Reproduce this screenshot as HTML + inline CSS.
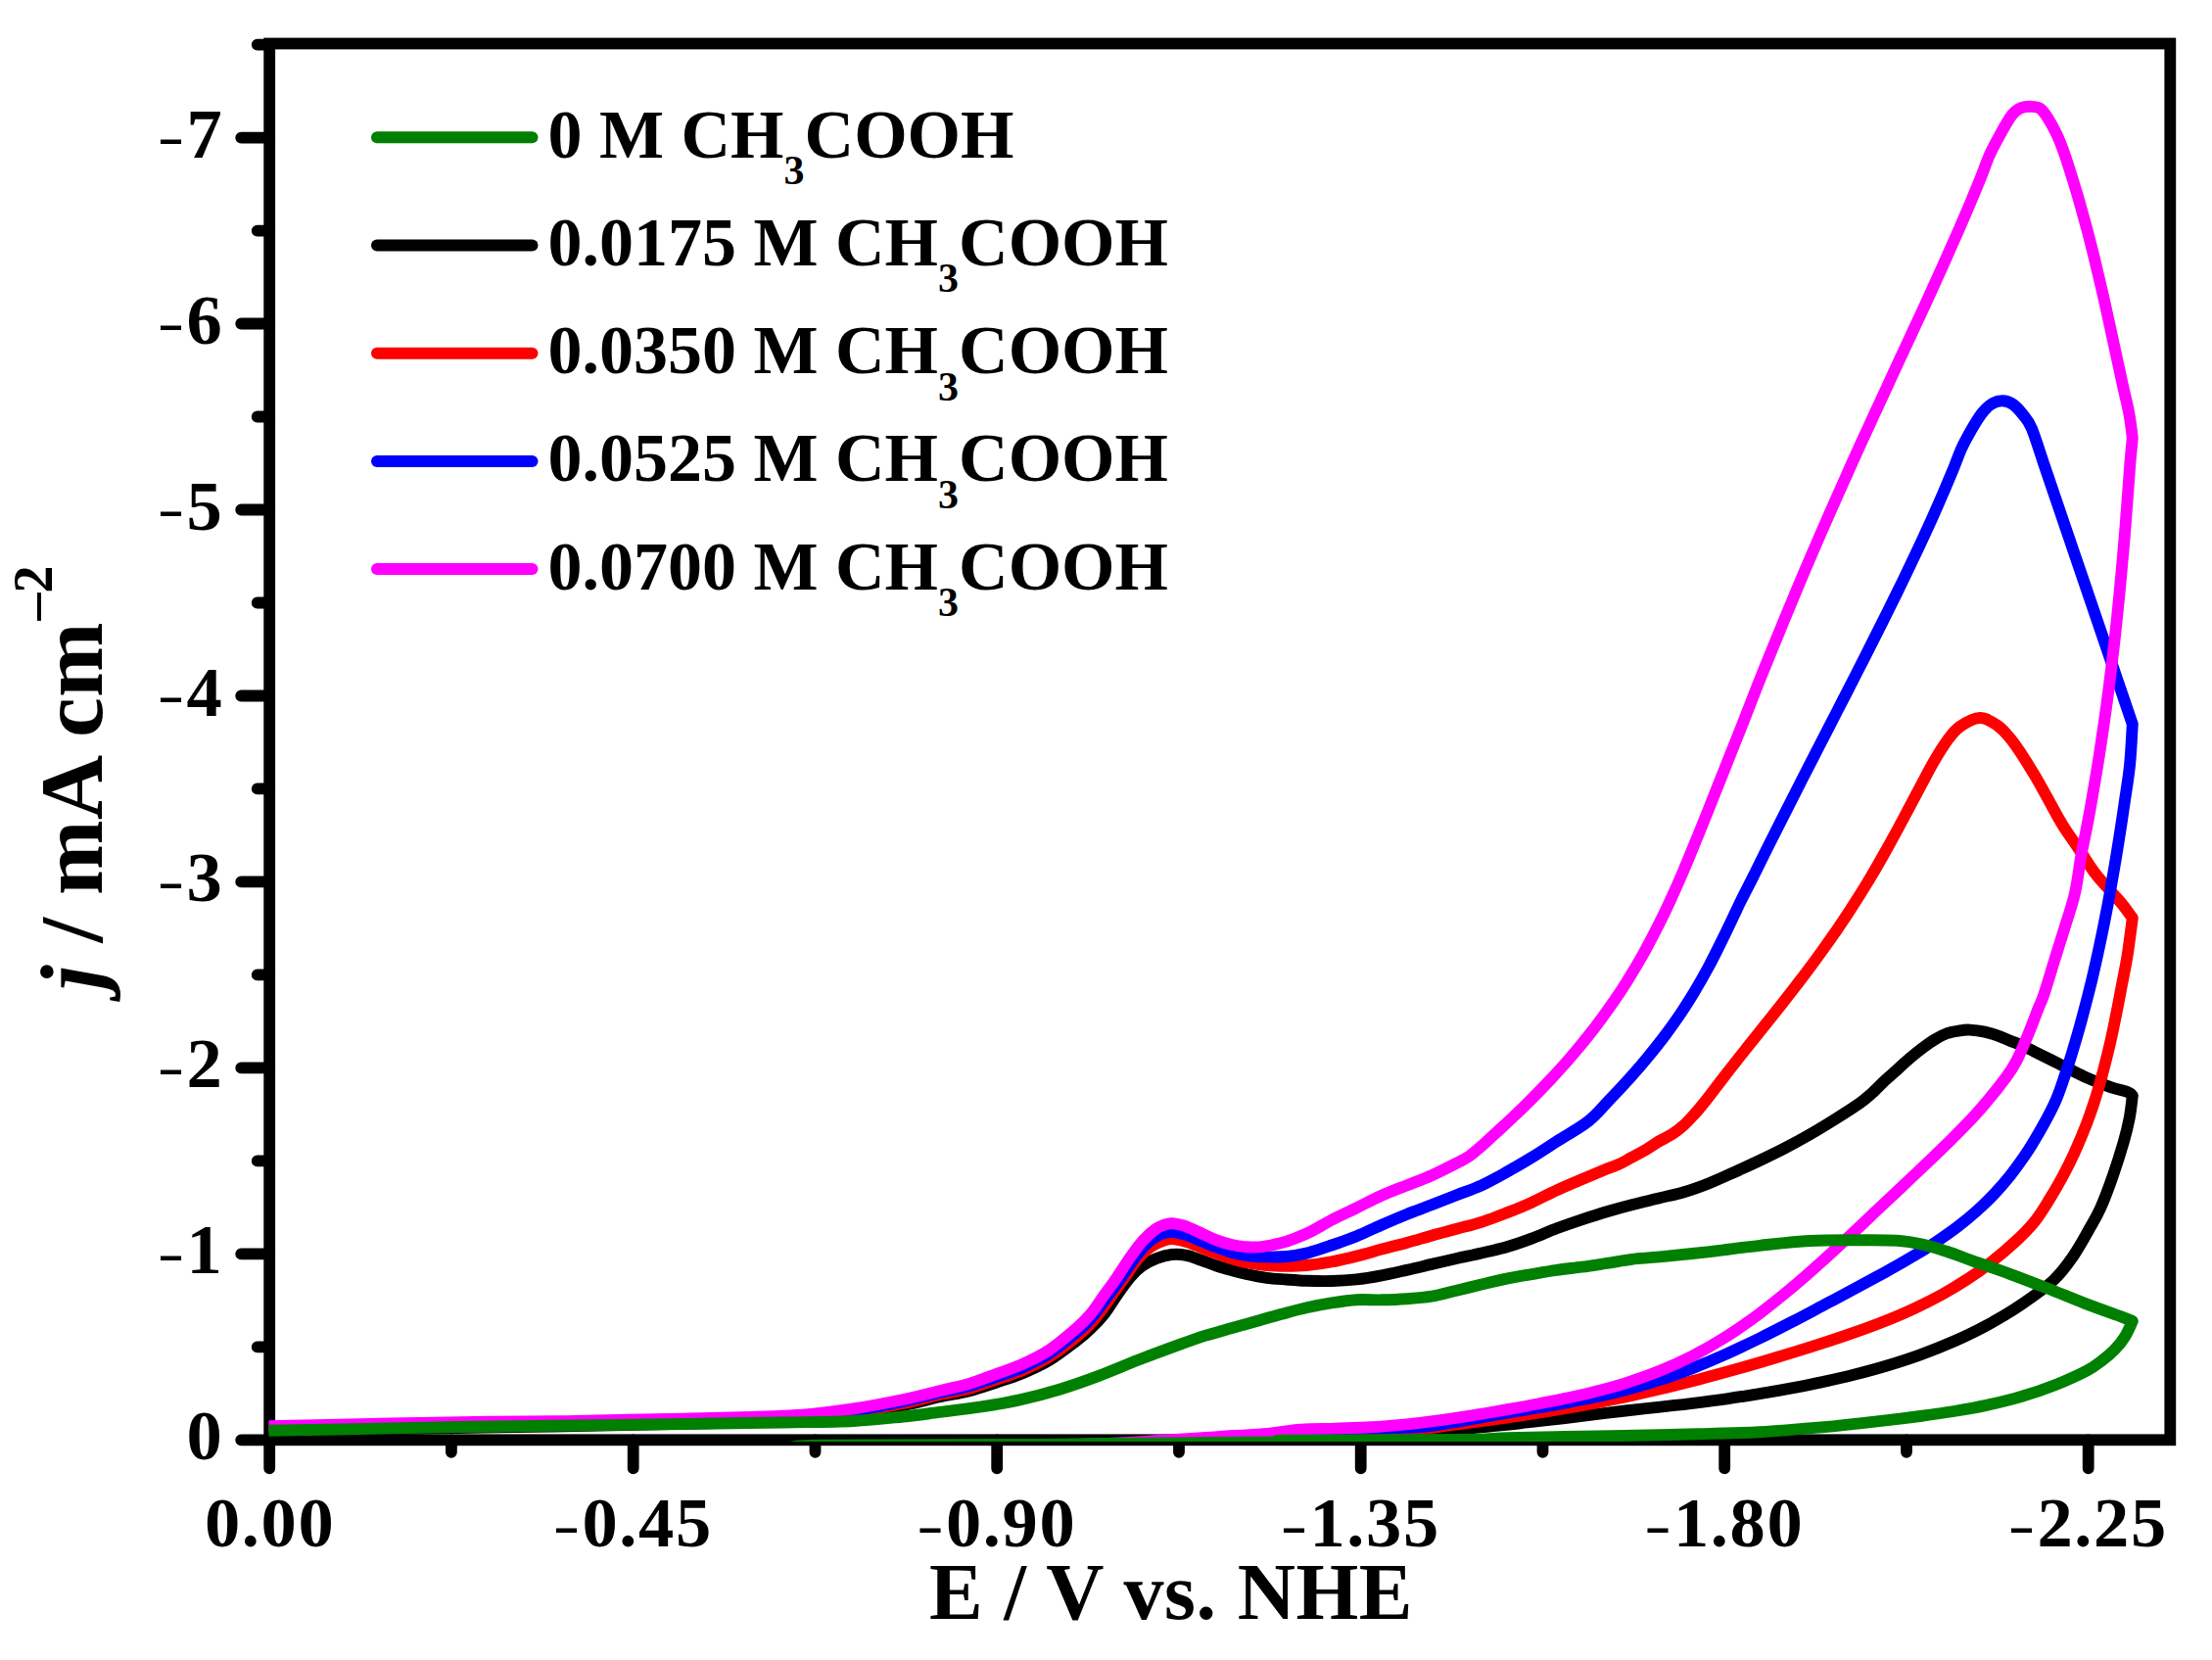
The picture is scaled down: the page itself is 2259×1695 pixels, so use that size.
<!DOCTYPE html>
<html lang="en"><head><meta charset="utf-8"><title>CV plot</title>
<style>
html,body{margin:0;padding:0;background:#fff}
body{width:2259px;height:1695px;overflow:hidden}
svg{display:block}
text{font-family:"Liberation Serif","Times New Roman",Times,serif;font-weight:bold;fill:#000}
</style></head>
<body>
<svg xmlns="http://www.w3.org/2000/svg" width="2259" height="1695" viewBox="0 0 2259 1695">
<rect width="2259" height="1695" fill="#fff"/>
<defs><clipPath id="pc"><rect x="274.3" y="30.0" width="1941.7" height="1442.0"/></clipPath></defs>
<g fill="none" stroke="#000" stroke-width="11.8">
<rect x="275.2" y="44.5" width="1941.1" height="1425.8"/>
</g>
<g fill="none" stroke="#000" stroke-width="11.8" stroke-linecap="round">
<path d="M275.2 1470.3 H246.2M275.2 1280.3 H246.2M275.2 1090.4 H246.2M275.2 900.4 H246.2M275.2 710.5 H246.2M275.2 520.5 H246.2M275.2 330.5 H246.2M275.2 140.6 H246.2M275.2 1375.3 H262.7M275.2 1185.4 H262.7M275.2 995.4 H262.7M275.2 805.4 H262.7M275.2 615.5 H262.7M275.2 425.5 H262.7M275.2 235.6 H262.7M275.2 45.6 H262.7M275.2 1470.3 V1499.3M646.7 1470.3 V1499.3M1018.2 1470.3 V1499.3M1389.7 1470.3 V1499.3M1761.2 1470.3 V1499.3M2132.7 1470.3 V1499.3M460.9 1470.3 V1482.8M832.5 1470.3 V1482.8M1204.0 1470.3 V1482.8M1575.5 1470.3 V1482.8M1947.0 1470.3 V1482.8"/>
</g>
<g clip-path="url(#pc)" fill="none" stroke-width="11.9" stroke-linejoin="round">
<path stroke="#000000" d="M274.3 1461.0C322.8 1460.2 484.6 1457.9 565.0 1456.5C645.4 1455.1 713.2 1453.7 756.6 1452.5C800.0 1451.3 806.4 1450.9 825.5 1449.5C844.6 1448.1 855.3 1446.4 871.5 1444.0C887.7 1441.6 907.9 1438.0 922.6 1435.0C937.4 1432.0 948.9 1428.7 960.0 1426.3C971.1 1423.9 979.6 1422.9 989.0 1420.5C998.4 1418.1 1007.1 1415.0 1016.2 1412.0C1025.3 1409.0 1034.5 1406.3 1043.7 1402.5C1052.9 1398.7 1062.3 1394.6 1071.6 1389.0C1080.9 1383.4 1092.4 1374.3 1099.4 1369.0C1106.4 1363.7 1108.8 1361.5 1113.5 1357.0C1118.2 1352.5 1122.9 1347.7 1127.4 1342.0C1131.9 1336.3 1136.1 1329.0 1140.5 1322.8C1144.9 1316.5 1149.8 1309.5 1154.0 1304.5C1158.2 1299.5 1161.5 1296.2 1166.0 1293.0C1170.5 1289.8 1175.9 1287.0 1181.0 1285.0C1186.1 1283.0 1191.3 1281.5 1196.4 1281.0C1201.5 1280.5 1206.6 1280.8 1211.7 1281.8C1216.8 1282.8 1221.9 1285.1 1227.0 1286.9C1232.1 1288.7 1237.3 1290.8 1242.4 1292.5C1247.5 1294.2 1252.6 1295.6 1257.7 1297.0C1262.8 1298.4 1267.0 1299.7 1273.0 1301.0C1279.0 1302.3 1286.7 1303.9 1293.5 1304.8C1300.3 1305.7 1307.1 1306.0 1313.9 1306.5C1320.7 1307.0 1326.6 1307.5 1334.3 1307.8C1342.0 1308.0 1351.4 1308.2 1359.9 1308.0C1368.4 1307.8 1376.9 1307.3 1385.4 1306.4C1393.9 1305.5 1402.5 1304.0 1411.0 1302.4C1419.5 1300.8 1428.0 1298.8 1436.5 1296.9C1445.0 1295.0 1453.5 1292.9 1462.0 1290.9C1470.5 1288.9 1479.1 1286.9 1487.6 1285.0C1496.1 1283.1 1504.5 1281.5 1513.0 1279.5C1521.5 1277.5 1530.2 1275.8 1538.7 1273.3C1547.2 1270.8 1555.7 1267.8 1564.2 1264.6C1572.7 1261.4 1581.3 1257.5 1589.8 1254.3C1598.3 1251.1 1606.8 1248.1 1615.3 1245.3C1623.8 1242.5 1632.4 1239.7 1640.9 1237.2C1649.4 1234.7 1657.4 1232.5 1666.4 1230.2C1675.4 1227.9 1686.0 1225.5 1695.0 1223.3C1704.0 1221.1 1712.0 1219.5 1720.5 1217.0C1729.0 1214.5 1737.5 1211.4 1746.0 1208.0C1754.5 1204.6 1763.1 1200.5 1771.6 1196.7C1780.1 1192.9 1788.5 1189.0 1797.0 1185.0C1805.5 1181.0 1814.2 1176.8 1822.7 1172.4C1831.2 1168.0 1839.8 1163.3 1848.3 1158.4C1856.8 1153.5 1865.3 1148.3 1873.8 1143.0C1882.3 1137.7 1892.9 1130.9 1899.3 1126.4C1905.7 1121.9 1907.7 1119.8 1912.0 1116.0C1916.3 1112.2 1920.6 1107.4 1924.9 1103.4C1929.2 1099.4 1933.5 1095.8 1937.7 1092.0C1942.0 1088.2 1946.2 1084.0 1950.4 1080.4C1954.7 1076.8 1958.9 1073.4 1963.2 1070.2C1967.5 1067.0 1971.8 1063.8 1976.0 1061.3C1980.2 1058.8 1984.5 1056.5 1988.7 1055.0C1993.0 1053.5 1997.7 1052.9 2001.5 1052.3C2005.3 1051.7 2007.5 1051.4 2011.7 1051.6C2016.0 1051.8 2022.3 1052.6 2027.0 1053.6C2031.7 1054.6 2035.5 1055.9 2039.8 1057.4C2044.1 1058.9 2048.3 1060.9 2052.6 1062.6C2056.9 1064.3 2061.2 1065.8 2065.4 1067.7C2069.6 1069.6 2071.6 1070.8 2078.0 1074.0C2084.4 1077.2 2095.2 1082.5 2103.7 1086.8C2112.2 1091.1 2120.7 1095.8 2129.2 1099.6C2137.7 1103.4 2147.6 1107.2 2154.8 1109.8C2162.1 1112.4 2168.9 1113.5 2172.7 1115.0C2176.5 1116.5 2177.0 1118.1 2177.8 1118.7C2177.3 1122.5 2176.2 1133.9 2174.7 1141.7C2173.2 1149.5 2171.7 1155.9 2168.9 1165.6C2166.1 1175.3 2161.9 1188.7 2158.0 1200.0C2154.1 1211.3 2149.3 1224.2 2145.2 1233.4C2141.1 1242.6 2138.3 1246.7 2133.6 1255.0C2128.9 1263.3 2123.0 1274.3 2117.0 1283.0C2111.0 1291.7 2106.3 1298.7 2097.4 1307.0C2088.5 1315.3 2074.6 1325.0 2063.4 1332.6C2052.2 1340.2 2041.3 1346.5 2030.0 1352.7C2018.7 1358.9 2007.1 1364.4 1995.6 1369.5C1984.1 1374.6 1972.3 1379.2 1961.0 1383.3C1949.7 1387.4 1939.0 1390.8 1927.8 1394.2C1916.6 1397.6 1905.3 1400.6 1894.0 1403.5C1882.7 1406.4 1870.5 1409.1 1860.0 1411.4C1849.5 1413.7 1841.8 1415.2 1831.3 1417.2C1820.8 1419.2 1808.3 1421.4 1797.0 1423.2C1785.7 1425.0 1774.7 1426.7 1763.4 1428.3C1752.1 1429.9 1740.3 1431.4 1729.0 1432.8C1717.7 1434.2 1707.1 1435.3 1695.6 1436.6C1684.1 1437.9 1671.3 1439.2 1660.0 1440.5C1648.7 1441.8 1638.8 1443.1 1627.8 1444.4C1616.8 1445.7 1605.3 1447.2 1594.0 1448.5C1582.7 1449.8 1570.2 1451.3 1560.0 1452.4C1549.8 1453.5 1543.9 1454.2 1532.6 1455.3C1521.3 1456.4 1508.0 1457.8 1492.0 1458.9C1476.0 1460.0 1455.2 1460.8 1436.5 1461.8C1417.8 1462.8 1397.1 1464.0 1380.0 1465.0C1362.9 1466.0 1358.7 1466.5 1334.0 1467.5C1309.3 1468.5 1304.3 1468.9 1232.0 1471.0C1159.7 1473.1 1059.5 1478.0 900.0 1480.0C740.5 1482.0 379.2 1482.5 275.0 1483.0"/>
<path stroke="#ff0000" d="M274.3 1459.0C322.8 1458.2 484.6 1455.9 565.0 1454.5C645.4 1453.1 713.2 1451.7 756.6 1450.5C800.0 1449.3 806.4 1448.9 825.5 1447.5C844.6 1446.1 855.3 1444.4 871.5 1442.0C887.7 1439.6 907.9 1436.0 922.6 1433.0C937.4 1430.0 948.9 1426.5 960.0 1424.0C971.1 1421.5 979.6 1420.5 989.0 1418.0C998.4 1415.5 1007.1 1412.1 1016.2 1409.0C1025.3 1405.9 1034.5 1403.4 1043.7 1399.5C1052.9 1395.6 1062.3 1391.2 1071.6 1385.5C1080.9 1379.8 1092.4 1370.6 1099.4 1365.0C1106.4 1359.4 1108.8 1357.1 1113.5 1352.0C1118.2 1346.9 1123.8 1339.4 1127.4 1334.5C1131.1 1329.6 1131.8 1327.9 1135.4 1322.8C1139.0 1317.7 1144.6 1310.0 1149.0 1303.8C1153.4 1297.6 1157.8 1290.5 1162.0 1285.5C1166.2 1280.5 1170.2 1276.9 1174.0 1274.0C1177.8 1271.1 1181.3 1269.5 1185.0 1268.0C1188.7 1266.5 1192.0 1265.0 1196.4 1265.0C1200.9 1265.0 1206.6 1266.5 1211.7 1268.0C1216.8 1269.5 1221.9 1272.0 1227.0 1274.0C1232.1 1276.0 1237.3 1278.1 1242.4 1280.0C1247.5 1281.9 1252.6 1283.7 1257.7 1285.2C1262.8 1286.7 1267.0 1288.1 1273.0 1289.2C1279.0 1290.3 1286.7 1291.4 1293.5 1292.0C1300.3 1292.6 1307.1 1292.7 1313.9 1292.7C1320.7 1292.7 1326.6 1292.7 1334.3 1292.0C1342.0 1291.3 1351.4 1290.0 1359.9 1288.4C1368.4 1286.8 1376.9 1284.7 1385.4 1282.6C1393.9 1280.5 1402.5 1277.9 1411.0 1275.6C1419.5 1273.3 1428.0 1271.3 1436.5 1269.0C1445.0 1266.7 1453.5 1264.1 1462.0 1261.7C1470.5 1259.3 1479.1 1257.1 1487.6 1254.8C1496.1 1252.5 1504.5 1250.5 1513.0 1247.8C1521.5 1245.1 1530.2 1241.7 1538.7 1238.4C1547.2 1235.1 1555.7 1231.7 1564.2 1227.8C1572.7 1223.9 1581.3 1219.2 1589.8 1215.3C1598.3 1211.4 1606.8 1207.8 1615.3 1204.2C1623.8 1200.6 1634.5 1196.2 1640.9 1193.6C1647.3 1191.0 1649.3 1190.7 1653.6 1188.7C1657.8 1186.7 1662.1 1184.1 1666.4 1181.8C1670.7 1179.5 1674.4 1177.7 1679.2 1174.9C1684.0 1172.1 1690.2 1167.8 1695.0 1165.0C1699.8 1162.2 1703.6 1160.7 1707.8 1158.0C1712.0 1155.3 1716.0 1152.1 1719.9 1148.6C1723.8 1145.1 1727.2 1141.2 1731.0 1137.0C1734.8 1132.8 1738.7 1128.0 1742.5 1123.2C1746.3 1118.4 1750.1 1113.3 1753.9 1108.3C1757.8 1103.3 1761.5 1098.5 1765.6 1093.2C1769.7 1087.9 1774.2 1082.1 1778.6 1076.6C1783.0 1071.1 1787.3 1065.8 1791.9 1060.0C1796.5 1054.2 1801.5 1048.0 1806.3 1042.0C1811.0 1036.0 1815.7 1030.1 1820.4 1024.2C1825.1 1018.3 1829.7 1012.4 1834.3 1006.4C1838.9 1000.4 1843.5 994.5 1847.9 988.5C1852.4 982.5 1856.7 976.6 1861.0 970.6C1865.3 964.6 1869.6 958.7 1873.7 952.7C1877.8 946.7 1881.6 941.2 1885.8 934.8C1890.0 928.4 1894.6 921.2 1898.9 914.4C1903.2 907.6 1907.1 901.2 1911.4 894.0C1915.7 886.8 1920.3 878.7 1924.6 871.0C1928.9 863.3 1932.9 856.1 1937.3 848.0C1941.7 839.9 1946.6 830.6 1950.9 822.5C1955.2 814.4 1959.0 807.2 1963.1 799.5C1967.2 791.8 1971.3 783.8 1975.6 776.5C1979.9 769.2 1984.4 761.8 1988.7 756.0C1993.0 750.2 1996.0 745.8 2001.5 742.0C2007.0 738.2 2015.6 733.2 2022.0 733.0C2028.4 732.8 2034.7 737.3 2039.8 740.7C2044.9 744.1 2048.3 748.4 2052.6 753.5C2056.9 758.6 2061.2 765.0 2065.4 771.4C2069.6 777.8 2073.7 784.6 2078.0 791.8C2082.3 799.0 2086.7 807.1 2091.0 814.8C2095.3 822.5 2100.5 832.3 2103.7 837.8C2106.9 843.3 2106.6 842.9 2110.0 848.0C2113.4 853.1 2119.1 861.2 2124.0 868.4C2128.9 875.6 2134.3 884.6 2139.4 891.4C2144.5 898.2 2150.1 904.0 2154.8 909.3C2159.5 914.6 2163.7 918.7 2167.5 923.4C2171.3 928.1 2176.1 935.1 2177.8 937.4C2176.9 943.8 2174.4 964.2 2172.6 975.7C2170.8 987.2 2168.8 996.2 2166.8 1006.4C2164.9 1016.6 2163.0 1026.8 2160.9 1037.0C2158.8 1047.2 2156.8 1057.5 2154.4 1067.7C2152.0 1077.9 2149.2 1088.9 2146.7 1098.3C2144.2 1107.7 2141.9 1115.4 2139.2 1123.9C2136.4 1132.4 2133.7 1140.4 2130.2 1149.4C2126.7 1158.4 2122.1 1169.2 2118.1 1178.0C2114.1 1186.8 2110.4 1194.0 2106.1 1202.0C2101.8 1210.0 2096.9 1218.3 2092.1 1226.0C2087.3 1233.7 2082.8 1241.2 2077.3 1248.0C2071.8 1254.8 2066.6 1260.0 2059.0 1267.0C2051.4 1274.0 2040.3 1283.4 2032.0 1289.9C2023.7 1296.5 2017.1 1301.0 2009.0 1306.3C2000.9 1311.6 1992.5 1316.7 1983.6 1321.6C1974.7 1326.5 1965.3 1331.2 1955.5 1335.8C1945.7 1340.4 1935.1 1344.9 1924.9 1349.0C1914.7 1353.1 1905.0 1356.6 1894.2 1360.4C1883.4 1364.2 1870.5 1368.5 1860.0 1371.9C1849.5 1375.3 1841.8 1377.7 1831.3 1380.9C1820.8 1384.1 1808.3 1387.9 1797.0 1391.2C1785.7 1394.5 1774.7 1397.6 1763.4 1400.7C1752.1 1403.8 1740.3 1407.1 1729.0 1410.0C1717.7 1412.9 1707.1 1415.6 1695.6 1418.3C1684.1 1421.0 1671.3 1424.0 1660.0 1426.4C1648.7 1428.8 1638.8 1430.7 1627.8 1432.8C1616.8 1434.9 1605.3 1437.0 1594.0 1438.9C1582.7 1440.8 1568.2 1443.0 1560.0 1444.3C1551.8 1445.6 1548.9 1446.0 1544.8 1446.6C1540.7 1447.2 1539.3 1447.4 1535.3 1448.0C1531.3 1448.6 1526.3 1449.3 1521.0 1450.0C1515.7 1450.7 1510.3 1451.5 1503.5 1452.4C1496.7 1453.3 1489.6 1454.3 1480.4 1455.4C1471.2 1456.5 1461.9 1457.9 1448.5 1458.9C1435.1 1459.9 1419.1 1460.4 1400.0 1461.5C1380.9 1462.6 1362.0 1464.0 1334.0 1465.5C1306.0 1467.0 1304.3 1468.1 1232.0 1470.5C1159.7 1472.9 1059.5 1478.1 900.0 1480.0C740.5 1481.9 379.2 1481.7 275.0 1482.0"/>
<path stroke="#0000ff" d="M274.3 1458.0C322.8 1457.2 484.6 1454.5 565.0 1453.0C645.4 1451.5 713.2 1450.2 756.6 1449.0C800.0 1447.8 806.4 1447.4 825.5 1446.0C844.6 1444.6 855.3 1443.0 871.5 1440.5C887.7 1438.0 907.9 1434.1 922.6 1431.0C937.4 1427.9 948.9 1424.6 960.0 1422.0C971.1 1419.4 979.6 1418.2 989.0 1415.6C998.4 1413.0 1007.1 1409.7 1016.2 1406.5C1025.3 1403.3 1034.5 1400.6 1043.7 1396.5C1052.9 1392.4 1062.3 1388.0 1071.6 1382.0C1080.9 1376.0 1092.4 1366.3 1099.4 1360.5C1106.4 1354.7 1108.8 1352.3 1113.5 1347.0C1118.2 1341.7 1122.2 1335.9 1127.4 1328.8C1132.7 1321.7 1139.8 1311.8 1145.0 1304.5C1150.2 1297.2 1154.2 1290.8 1158.5 1285.0C1162.8 1279.2 1166.9 1273.9 1171.0 1270.0C1175.1 1266.1 1178.8 1263.5 1183.0 1261.5C1187.2 1259.5 1191.6 1257.9 1196.4 1257.8C1201.2 1257.7 1206.6 1259.4 1211.7 1261.0C1216.8 1262.6 1221.9 1265.1 1227.0 1267.2C1232.1 1269.3 1237.3 1271.6 1242.4 1273.5C1247.5 1275.4 1252.6 1277.3 1257.7 1278.7C1262.8 1280.1 1267.0 1281.2 1273.0 1282.0C1279.0 1282.8 1286.7 1283.2 1293.5 1283.4C1300.3 1283.6 1307.1 1283.6 1313.9 1283.0C1320.7 1282.4 1326.6 1281.5 1334.3 1279.6C1342.0 1277.7 1351.4 1274.4 1359.9 1271.5C1368.4 1268.6 1376.9 1265.7 1385.4 1262.2C1393.9 1258.7 1402.5 1254.4 1411.0 1250.7C1419.5 1247.0 1428.0 1243.3 1436.5 1239.9C1445.0 1236.5 1453.5 1233.6 1462.0 1230.3C1470.5 1227.0 1479.1 1223.6 1487.6 1220.3C1496.1 1217.0 1504.5 1214.3 1513.0 1210.4C1521.5 1206.5 1530.2 1201.5 1538.7 1196.8C1547.2 1192.0 1555.8 1187.1 1564.2 1181.9C1572.6 1176.7 1579.7 1172.0 1589.3 1165.8C1598.9 1159.6 1612.9 1152.1 1621.9 1145.0C1630.9 1137.9 1636.3 1130.7 1643.3 1123.4C1650.3 1116.2 1657.1 1108.9 1663.8 1101.5C1670.5 1094.1 1676.9 1086.7 1683.2 1079.0C1689.5 1071.3 1695.9 1063.3 1701.6 1055.6C1707.3 1047.9 1712.6 1040.5 1717.6 1033.0C1722.6 1025.5 1727.2 1018.0 1731.7 1010.5C1736.2 1003.0 1740.5 995.4 1744.6 987.8C1748.7 980.2 1752.5 972.5 1756.2 965.0C1759.9 957.5 1763.3 950.5 1766.9 943.0C1770.5 935.5 1773.9 928.0 1777.8 920.0C1781.7 912.0 1786.2 903.7 1790.5 895.0C1794.8 886.3 1798.9 877.8 1803.9 867.8C1808.9 857.8 1814.8 846.3 1820.5 835.0C1826.2 823.7 1834.4 807.7 1838.3 800.0C1842.2 792.3 1840.9 794.8 1843.9 789.0C1846.9 783.2 1852.1 773.0 1856.2 765.0C1860.3 757.0 1864.4 749.0 1868.7 740.7C1873.0 732.4 1877.5 723.5 1881.9 715.0C1886.3 706.5 1890.4 698.5 1894.9 689.6C1899.5 680.7 1904.5 670.9 1909.2 661.5C1913.9 652.1 1918.6 642.9 1923.3 633.5C1928.0 624.1 1934.2 611.4 1937.4 605.0C1940.6 598.6 1939.0 601.8 1942.3 595.0C1945.6 588.2 1952.2 574.4 1957.1 564.0C1962.0 553.6 1967.1 542.6 1971.6 532.8C1976.0 523.0 1979.9 514.0 1983.8 505.0C1987.7 495.9 1991.7 486.4 1995.0 478.5C1998.3 470.6 2000.2 464.3 2003.4 457.5C2006.6 450.7 2010.5 443.7 2013.9 437.8C2017.3 431.9 2020.7 426.2 2024.0 422.0C2027.3 417.8 2030.5 414.6 2034.0 412.5C2037.5 410.4 2041.4 409.2 2045.1 409.3C2048.8 409.4 2052.5 410.6 2056.0 413.0C2059.5 415.4 2062.8 419.4 2066.0 423.5C2069.2 427.6 2071.2 428.6 2075.0 437.8C2078.8 447.0 2083.5 462.7 2088.9 478.5C2094.3 494.3 2100.8 513.4 2107.4 532.8C2114.0 552.2 2120.9 572.3 2128.6 595.0C2136.3 617.7 2145.6 644.9 2153.8 669.0C2162.0 693.1 2173.8 727.8 2177.8 739.5C2177.3 746.5 2176.4 768.2 2175.0 781.6C2173.6 795.0 2171.2 808.9 2169.6 820.0C2168.0 831.1 2167.1 837.0 2165.4 848.0C2163.7 859.0 2161.4 873.5 2159.2 886.3C2157.0 899.1 2154.8 911.8 2152.4 924.6C2150.0 937.4 2147.4 950.3 2144.7 963.0C2142.0 975.7 2139.3 988.2 2136.2 1001.0C2133.1 1013.8 2129.5 1027.6 2126.3 1039.6C2123.1 1051.6 2119.7 1063.1 2116.8 1072.8C2113.9 1082.5 2111.7 1089.6 2108.8 1098.0C2105.9 1106.4 2103.0 1115.5 2099.6 1123.4C2096.2 1131.4 2092.4 1138.3 2088.4 1145.7C2084.4 1153.1 2079.2 1161.9 2075.6 1167.9C2072.0 1173.9 2070.4 1176.2 2066.6 1181.7C2062.8 1187.2 2057.5 1194.6 2052.6 1200.7C2047.7 1206.8 2042.8 1212.5 2037.3 1218.4C2031.8 1224.3 2025.8 1230.2 2019.4 1235.9C2013.0 1241.6 2006.2 1247.3 1999.0 1252.8C1991.8 1258.3 1984.1 1263.6 1976.0 1268.9C1967.9 1274.2 1958.9 1279.7 1950.4 1284.7C1941.9 1289.8 1933.4 1294.5 1924.9 1299.2C1916.4 1303.9 1907.8 1308.5 1899.3 1313.1C1890.8 1317.7 1880.3 1323.2 1873.8 1326.7C1867.2 1330.2 1867.1 1330.3 1860.0 1334.0C1852.9 1337.7 1841.8 1343.7 1831.3 1349.1C1820.8 1354.5 1808.3 1361.0 1797.0 1366.5C1785.7 1372.0 1774.7 1377.3 1763.4 1382.4C1752.1 1387.5 1740.3 1392.5 1729.0 1396.9C1717.7 1401.3 1707.1 1405.2 1695.6 1408.9C1684.1 1412.6 1671.3 1416.3 1660.0 1419.3C1648.7 1422.3 1638.8 1424.5 1627.8 1426.8C1616.8 1429.1 1605.3 1431.2 1594.0 1433.3C1582.7 1435.4 1567.6 1437.9 1560.0 1439.2C1552.4 1440.5 1551.6 1440.6 1548.2 1441.2C1544.8 1441.8 1543.1 1442.1 1539.4 1442.7C1535.7 1443.3 1529.8 1444.3 1525.8 1445.0C1521.8 1445.7 1519.9 1446.1 1515.7 1446.8C1511.5 1447.5 1506.6 1448.4 1500.7 1449.4C1494.8 1450.4 1488.2 1451.7 1480.4 1452.9C1472.6 1454.1 1464.7 1455.9 1454.0 1456.8C1443.3 1457.7 1428.3 1457.7 1416.0 1458.4C1403.7 1459.1 1394.3 1460.1 1380.0 1461.0C1365.7 1461.9 1346.2 1463.0 1330.0 1464.0C1313.8 1465.0 1308.7 1465.6 1283.0 1467.0C1257.3 1468.4 1239.8 1470.3 1176.0 1472.5C1112.2 1474.7 1050.2 1478.6 900.0 1480.0C749.8 1481.4 379.2 1480.8 275.0 1481.0"/>
<path stroke="#ff00ff" d="M274.3 1456.2C295.2 1455.8 362.4 1454.2 400.0 1453.5C437.6 1452.8 472.5 1452.2 500.0 1451.8C527.5 1451.4 541.4 1451.6 565.0 1451.3C588.6 1451.0 609.7 1450.5 641.6 1449.8C673.5 1449.1 726.0 1448.2 756.6 1447.3C787.2 1446.4 806.4 1445.7 825.5 1444.2C844.6 1442.7 855.3 1441.0 871.5 1438.5C887.7 1436.0 907.6 1432.1 922.6 1429.0C937.6 1425.9 950.3 1422.4 961.4 1419.7C972.5 1417.0 979.9 1415.8 989.0 1413.1C998.1 1410.4 1007.1 1406.8 1016.2 1403.5C1025.3 1400.2 1034.5 1397.4 1043.7 1393.2C1052.9 1389.0 1062.3 1384.7 1071.6 1378.5C1080.9 1372.3 1092.4 1362.3 1099.4 1356.3C1106.4 1350.2 1108.8 1347.8 1113.5 1342.2C1118.2 1336.6 1122.8 1329.2 1127.4 1322.8C1132.0 1316.4 1136.5 1310.4 1141.0 1303.8C1145.5 1297.2 1150.0 1289.7 1154.5 1283.4C1159.0 1277.2 1163.4 1271.0 1167.7 1266.3C1172.0 1261.6 1176.2 1257.8 1180.3 1255.0C1184.3 1252.2 1188.9 1250.8 1192.0 1249.8C1195.1 1248.8 1195.8 1249.0 1198.7 1249.3C1201.6 1249.6 1204.3 1249.9 1209.3 1251.7C1214.3 1253.5 1223.3 1257.8 1228.8 1260.2C1234.3 1262.6 1237.6 1264.5 1242.5 1266.3C1247.4 1268.1 1252.9 1269.8 1258.0 1271.0C1263.1 1272.2 1267.9 1272.9 1273.0 1273.2C1278.1 1273.5 1282.4 1273.8 1288.4 1273.1C1294.4 1272.4 1302.9 1270.6 1308.8 1269.1C1314.7 1267.6 1318.9 1265.9 1324.0 1263.9C1329.1 1261.9 1333.5 1260.1 1339.5 1257.1C1345.5 1254.1 1352.2 1249.7 1359.9 1245.7C1367.6 1241.7 1376.9 1237.5 1385.4 1233.3C1393.9 1229.1 1402.5 1224.5 1411.0 1220.7C1419.5 1216.9 1428.0 1213.8 1436.5 1210.4C1445.0 1207.0 1453.5 1204.0 1462.0 1200.2C1470.5 1196.4 1481.2 1190.9 1487.6 1187.6C1494.0 1184.3 1496.4 1183.3 1500.4 1180.6C1504.4 1177.9 1508.0 1174.6 1511.8 1171.3C1515.6 1168.0 1519.7 1164.1 1523.5 1160.6C1527.3 1157.1 1531.0 1153.8 1534.6 1150.5C1538.1 1147.2 1540.9 1144.7 1544.8 1141.0C1548.7 1137.3 1553.8 1132.5 1558.1 1128.2C1562.4 1124.0 1566.4 1120.0 1570.8 1115.5C1575.2 1111.0 1579.9 1106.1 1584.3 1101.4C1588.7 1096.7 1592.9 1092.1 1597.1 1087.4C1601.3 1082.7 1605.2 1078.2 1609.3 1073.3C1613.4 1068.4 1617.4 1063.5 1621.8 1058.0C1626.2 1052.5 1631.2 1046.0 1635.6 1040.0C1640.0 1034.0 1643.9 1028.6 1648.3 1022.2C1652.7 1015.8 1656.9 1009.5 1661.7 1001.8C1666.5 994.1 1671.5 986.0 1677.0 976.2C1682.5 966.4 1689.7 952.5 1694.5 943.0C1699.3 933.5 1701.7 928.5 1705.8 919.5C1709.9 910.5 1714.2 900.9 1719.3 889.0C1724.4 877.1 1732.0 858.2 1736.2 848.0C1740.4 837.8 1741.2 835.7 1744.4 827.6C1747.6 819.5 1751.7 809.3 1755.6 799.5C1759.5 789.7 1763.6 779.4 1767.8 768.8C1772.0 758.1 1776.7 746.7 1781.0 735.6C1785.3 724.5 1789.5 713.5 1793.9 702.4C1798.3 691.3 1802.9 680.1 1807.4 669.0C1811.9 657.9 1816.4 647.0 1820.9 636.0C1825.5 625.0 1830.2 613.5 1834.7 602.8C1839.2 592.1 1843.3 582.2 1847.7 572.0C1852.1 561.8 1856.5 551.7 1860.9 541.5C1865.4 531.3 1870.0 520.8 1874.4 510.8C1878.8 500.8 1883.1 491.3 1887.5 481.5C1891.9 471.7 1896.4 461.6 1900.8 452.0C1905.2 442.4 1909.4 433.4 1913.7 424.0C1918.0 414.6 1922.4 405.3 1926.7 395.9C1931.0 386.5 1935.5 376.9 1939.7 367.8C1944.0 358.7 1948.2 349.6 1952.2 341.0C1956.2 332.4 1960.3 323.7 1963.8 316.0C1967.3 308.3 1969.5 303.7 1973.4 295.0C1977.3 286.3 1982.8 274.4 1987.4 264.0C1992.0 253.6 1997.0 242.5 2001.2 232.8C2005.4 223.1 2008.9 215.1 2012.7 206.0C2016.5 196.9 2020.8 186.6 2024.0 178.5C2027.2 170.4 2029.1 164.3 2032.2 157.5C2035.3 150.7 2038.7 144.5 2042.4 137.8C2046.1 131.1 2051.0 122.1 2054.6 117.5C2058.2 112.9 2060.8 111.7 2064.0 110.2C2067.2 108.8 2070.4 108.7 2073.6 108.8C2076.8 108.9 2080.1 108.7 2083.0 110.6C2085.9 112.5 2088.1 115.5 2091.0 120.0C2093.9 124.5 2097.8 131.6 2100.7 137.8C2103.6 144.0 2105.9 150.2 2108.3 157.0C2110.7 163.8 2112.8 170.5 2115.3 178.5C2117.8 186.5 2120.7 195.9 2123.3 205.0C2125.9 214.1 2128.4 223.1 2131.0 232.8C2133.6 242.5 2136.1 252.6 2138.7 263.0C2141.2 273.4 2143.8 284.2 2146.3 295.0C2148.8 305.8 2150.3 312.5 2153.7 328.0C2157.1 343.5 2163.2 372.2 2166.7 388.0C2170.1 403.8 2172.6 412.9 2174.4 422.7C2176.2 432.5 2177.2 442.9 2177.8 447.0C2177.4 451.7 2176.1 463.9 2175.2 475.0C2174.3 486.1 2173.4 500.6 2172.4 513.4C2171.4 526.2 2170.5 538.9 2169.4 551.7C2168.3 564.5 2167.2 577.3 2166.0 590.0C2164.8 602.7 2163.6 615.2 2162.3 628.0C2161.0 640.8 2159.5 653.9 2158.0 666.7C2156.5 679.5 2155.0 692.3 2153.3 705.0C2151.7 717.7 2149.9 730.2 2148.1 743.0C2146.2 755.8 2144.3 768.8 2142.2 781.6C2140.1 794.4 2137.6 808.9 2135.7 820.0C2133.8 831.1 2132.2 839.1 2130.5 848.0C2128.8 856.9 2127.3 862.8 2125.4 873.5C2123.5 884.2 2121.8 899.6 2119.0 912.0C2116.2 924.4 2111.9 936.3 2108.4 947.8C2104.9 959.3 2101.5 969.7 2098.0 981.0C2094.5 992.3 2090.1 1007.4 2087.3 1015.6C2084.6 1023.8 2083.9 1023.9 2081.5 1030.0C2079.1 1036.1 2076.6 1043.3 2073.0 1052.0C2069.4 1060.7 2064.0 1074.1 2060.0 1082.0C2056.0 1089.9 2055.3 1091.1 2049.0 1099.6C2042.7 1108.1 2031.4 1122.3 2022.0 1133.0C2012.6 1143.7 2003.8 1152.6 1992.6 1163.7C1981.4 1174.8 1967.4 1188.0 1955.0 1199.8C1942.6 1211.6 1928.0 1225.3 1918.0 1234.7C1908.0 1244.1 1904.7 1247.4 1895.0 1256.4C1885.3 1265.4 1870.6 1279.1 1860.0 1288.7C1849.4 1298.3 1841.8 1305.0 1831.3 1313.8C1820.8 1322.5 1808.3 1332.8 1797.0 1341.2C1785.7 1349.7 1774.7 1357.3 1763.4 1364.5C1752.1 1371.7 1740.3 1378.4 1729.0 1384.2C1717.7 1390.0 1707.1 1394.9 1695.6 1399.6C1684.1 1404.3 1671.3 1408.7 1660.0 1412.3C1648.7 1415.9 1638.8 1418.4 1627.8 1421.2C1616.8 1424.0 1605.3 1426.5 1594.0 1428.9C1582.7 1431.3 1567.1 1434.1 1560.0 1435.5C1552.9 1436.9 1556.6 1436.2 1551.6 1437.1C1546.6 1438.0 1537.9 1439.5 1529.9 1440.9C1521.9 1442.3 1513.9 1443.7 1503.5 1445.3C1493.1 1446.9 1479.1 1449.1 1467.5 1450.7C1455.9 1452.3 1445.2 1453.6 1434.0 1454.7C1422.8 1455.8 1412.1 1456.7 1400.4 1457.3C1388.7 1457.9 1376.0 1458.2 1364.0 1458.6C1352.0 1459.0 1340.2 1458.7 1328.5 1459.6C1316.8 1460.5 1305.4 1462.9 1294.0 1464.0C1282.6 1465.1 1270.3 1465.3 1260.0 1466.0C1249.7 1466.7 1246.2 1467.1 1232.2 1468.0C1218.2 1468.9 1198.0 1470.3 1176.0 1471.5C1154.0 1472.7 1146.0 1473.8 1100.0 1475.0C1054.0 1476.2 1037.5 1478.2 900.0 1479.0C762.5 1479.8 379.2 1479.8 275.0 1480.0"/>
<path stroke="#008000" d="M274.3 1460.7C286.2 1460.5 313.6 1460.1 346.0 1459.5C378.4 1458.9 432.5 1457.6 469.0 1457.0C505.5 1456.4 526.5 1456.3 565.0 1455.8C603.5 1455.3 660.8 1454.5 700.0 1454.0C739.2 1453.5 771.4 1453.0 800.0 1452.5C828.6 1452.0 851.1 1452.0 871.5 1451.0C891.9 1450.0 907.9 1448.0 922.6 1446.5C937.4 1445.0 947.0 1443.5 960.0 1441.9C973.0 1440.3 987.1 1438.8 1000.7 1436.7C1014.3 1434.6 1027.9 1432.4 1041.4 1429.4C1055.0 1426.4 1068.4 1422.8 1082.0 1418.7C1095.6 1414.6 1109.2 1409.7 1122.8 1404.6C1136.4 1399.5 1150.0 1393.5 1163.5 1388.3C1177.0 1383.1 1192.7 1377.3 1204.0 1373.2C1215.3 1369.1 1222.0 1366.7 1231.3 1363.7C1240.6 1360.8 1251.3 1358.0 1260.0 1355.5C1268.7 1353.0 1275.2 1351.3 1283.3 1349.0C1291.4 1346.7 1300.3 1344.1 1308.8 1341.8C1317.3 1339.5 1325.8 1337.1 1334.3 1335.2C1342.8 1333.3 1351.4 1331.6 1359.9 1330.3C1368.4 1329.0 1376.9 1327.7 1385.4 1327.2C1393.9 1326.7 1402.5 1327.5 1411.0 1327.3C1419.5 1327.1 1428.0 1326.8 1436.5 1326.2C1445.0 1325.6 1453.5 1325.1 1462.0 1323.7C1470.5 1322.3 1479.1 1319.7 1487.6 1317.7C1496.1 1315.7 1504.5 1313.5 1513.0 1311.5C1521.5 1309.5 1530.2 1307.4 1538.7 1305.7C1547.2 1304.0 1555.7 1302.6 1564.2 1301.1C1572.7 1299.6 1581.3 1298.0 1589.8 1296.8C1598.3 1295.6 1606.8 1294.8 1615.3 1293.7C1623.8 1292.6 1632.4 1291.2 1640.9 1289.9C1649.4 1288.6 1657.4 1286.9 1666.4 1285.8C1675.4 1284.7 1681.7 1284.7 1695.0 1283.4C1708.3 1282.1 1729.0 1280.0 1746.0 1278.1C1763.0 1276.2 1780.0 1273.6 1797.0 1271.8C1814.0 1270.0 1831.2 1267.9 1848.3 1267.0C1865.3 1266.1 1884.4 1266.3 1899.3 1266.3C1914.2 1266.3 1927.0 1266.1 1937.7 1266.8C1948.4 1267.5 1954.7 1268.7 1963.2 1270.6C1971.7 1272.5 1980.2 1275.2 1988.7 1278.0C1997.2 1280.8 2003.7 1283.6 2014.3 1287.4C2024.9 1291.2 2039.8 1296.1 2052.6 1300.8C2065.4 1305.5 2078.2 1310.5 2091.0 1315.5C2103.8 1320.5 2116.4 1326.0 2129.2 1330.9C2141.9 1335.8 2159.4 1341.8 2167.5 1344.8C2175.6 1347.8 2176.1 1348.3 2177.8 1349.0C2176.5 1351.7 2173.0 1360.2 2170.0 1365.0C2167.0 1369.8 2163.8 1373.7 2160.0 1377.7C2156.2 1381.7 2151.8 1385.4 2147.0 1389.0C2142.2 1392.6 2139.1 1395.4 2131.3 1399.5C2123.5 1403.6 2111.3 1409.2 2100.0 1413.7C2088.7 1418.2 2075.1 1422.8 2063.4 1426.3C2051.7 1429.8 2041.3 1432.1 2030.0 1434.6C2018.7 1437.0 2007.1 1439.1 1995.6 1441.0C1984.1 1442.9 1972.3 1444.5 1961.0 1446.0C1949.7 1447.5 1939.0 1448.8 1927.8 1450.1C1916.6 1451.4 1905.3 1452.7 1894.0 1453.9C1882.7 1455.1 1876.2 1456.0 1860.0 1457.4C1843.8 1458.8 1816.0 1461.1 1797.0 1462.2C1778.0 1463.3 1763.0 1463.4 1746.0 1463.9C1729.0 1464.4 1719.3 1464.8 1695.0 1465.3C1670.7 1465.8 1625.8 1466.5 1600.0 1467.0C1574.2 1467.5 1556.7 1467.7 1540.0 1468.2C1523.3 1468.7 1523.3 1469.7 1500.0 1470.0C1476.7 1470.3 1431.7 1470.2 1400.0 1470.3C1368.3 1470.4 1328.3 1470.4 1310.0 1470.8C1291.7 1471.2 1320.0 1472.1 1290.0 1472.6C1260.0 1473.1 1170.0 1473.6 1130.0 1474.0C1090.0 1474.4 1098.7 1474.7 1050.0 1475.0C1001.3 1475.3 879.7 1475.1 838.0 1475.6C796.3 1476.1 823.0 1477.3 800.0 1478.0C777.0 1478.7 787.5 1479.3 700.0 1480.0C612.5 1480.7 345.8 1481.7 275.0 1482.0"/>
</g>
<g font-size="72.5" letter-spacing="1.60">
<text x="190.5" y="1490.3">0</text>
<text x="190.5" y="1300.3">1</text>
<text transform="translate(161.0 1296.8) scale(1.120 0.720)" font-size="72.5">-</text>
<text x="190.5" y="1110.4">2</text>
<text transform="translate(161.0 1106.9) scale(1.120 0.720)" font-size="72.5">-</text>
<text x="190.5" y="920.4">3</text>
<text transform="translate(161.0 916.9) scale(1.120 0.720)" font-size="72.5">-</text>
<text x="190.5" y="730.5">4</text>
<text transform="translate(161.0 727.0) scale(1.120 0.720)" font-size="72.5">-</text>
<text x="190.5" y="540.5">5</text>
<text transform="translate(161.0 537.0) scale(1.120 0.720)" font-size="72.5">-</text>
<text x="190.5" y="350.5">6</text>
<text transform="translate(161.0 347.0) scale(1.120 0.720)" font-size="72.5">-</text>
<text x="190.5" y="160.6">7</text>
<text transform="translate(161.0 157.1) scale(1.120 0.720)" font-size="72.5">-</text>
<text x="209.0" y="1578.5">0.00</text>
<text x="594.5" y="1578.5">0.45</text>
<text transform="translate(565.0 1575.0) scale(1.120 0.720)" font-size="72.5">-</text>
<text x="966.0" y="1578.5">0.90</text>
<text transform="translate(936.5 1575.0) scale(1.120 0.720)" font-size="72.5">-</text>
<text x="1337.5" y="1578.5">1.35</text>
<text transform="translate(1308.0 1575.0) scale(1.120 0.720)" font-size="72.5">-</text>
<text x="1709.0" y="1578.5">1.80</text>
<text transform="translate(1679.5 1575.0) scale(1.120 0.720)" font-size="72.5">-</text>
<text x="2080.5" y="1578.5">2.25</text>
<text transform="translate(2051.0 1575.0) scale(1.120 0.720)" font-size="72.5">-</text>
</g>
<text x="949.0" y="1653.0" font-size="82.0" letter-spacing="0.55">E / V vs. NHE</text>
<text transform="translate(103.9 1011.0) rotate(-90)" font-size="92.0"><tspan font-style="italic">j</tspan> / mA cm<tspan font-size="56.0" dy="-50.6" dx="2.0">–</tspan><tspan font-size="56.0" dx="0.0">2</tspan></text>
<g fill="none" stroke-width="12.0" stroke-linecap="round">
<path stroke="#008000" d="M385.0 140.3 H543.5"/>
<path stroke="#000000" d="M385.0 250.5 H543.5"/>
<path stroke="#ff0000" d="M385.0 360.7 H543.5"/>
<path stroke="#0000ff" d="M385.0 470.9 H543.5"/>
<path stroke="#ff00ff" d="M385.0 581.1 H543.5"/>
</g>
<g font-size="70.0">
<text x="559.5" y="160.8">0 M CH<tspan font-size="42.0" dy="27.4">3</tspan><tspan dy="-27.4">COOH</tspan></text>
<text x="559.5" y="271.0">0.0175 M CH<tspan font-size="42.0" dy="27.4">3</tspan><tspan dy="-27.4">COOH</tspan></text>
<text x="559.5" y="381.2">0.0350 M CH<tspan font-size="42.0" dy="27.4">3</tspan><tspan dy="-27.4">COOH</tspan></text>
<text x="559.5" y="491.4">0.0525 M CH<tspan font-size="42.0" dy="27.4">3</tspan><tspan dy="-27.4">COOH</tspan></text>
<text x="559.5" y="601.6">0.0700 M CH<tspan font-size="42.0" dy="27.4">3</tspan><tspan dy="-27.4">COOH</tspan></text>
</g>
</svg>
</body></html>
